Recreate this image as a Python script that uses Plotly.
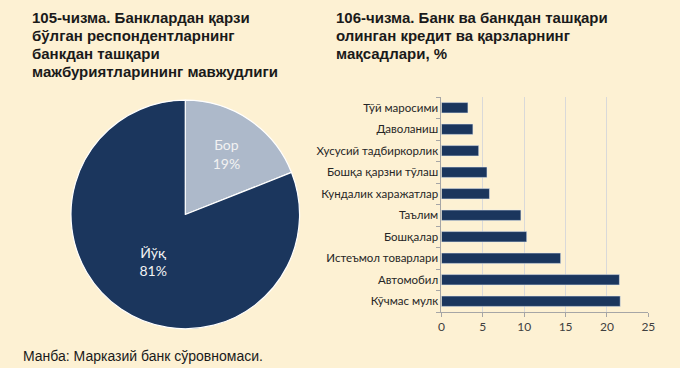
import plotly.graph_objects as go

W, H = 680, 368
BG = "#FDF1D3"

pie_labels = ["Бор", "Йўқ"]
pie_values = [19, 81]
pie_colors = ["#ADB9CA", "#1B365D"]

bar_categories = ["Кўчмас мулк", "Автомобил", "Истеъмол товарлари", "Бошқалар", "Таълим",
                  "Кундалик харажатлар", "Бошқа қарзни тўлаш", "Хусусий тадбиркорлик",
                  "Даволаниш", "Тўй маросими"]
bar_values = [21.6, 21.5, 14.4, 10.3, 9.6, 5.8, 5.5, 4.5, 3.8, 3.2]
x_ticks = [0, 5, 10, 15, 20, 25]

title_left = ["105-чизма. Банклардан қарзи", "бўлган респондентларнинг",
              "банкдан ташқари", "мажбуриятларининг мавжудлиги"]
title_right = ["106-чизма. Банк ва банкдан ташқари", "олинган кредит ва қарзларнинг",
               "мақсадлари, %"]
source = "Манба: Марказий банк сўровномаси."

fig = go.Figure()

cx, cy, r = 185, 214.5, 116
fig.add_trace(go.Pie(
    labels=pie_labels, values=pie_values, sort=False, direction="clockwise", rotation=0,
    marker=dict(colors=pie_colors, line=dict(color="#FFFFFF", width=1.2)),
    textinfo="label+percent", texttemplate="%{label}<br>%{percent:.0%}",
    textposition="inside", insidetextorientation="horizontal",
    textfont=dict(family="Lato", size=14, color=["#F2F2F2", "#F2F2F2"]),
    domain=dict(x=[(cx - r) / W, (cx + r) / W], y=[(H - cy - r) / H, (H - cy + r) / H]),
    showlegend=False, hoverinfo="skip",
))

fig.add_trace(go.Bar(
    y=bar_categories, x=bar_values, orientation="h",
    marker=dict(color="#1B365D"), showlegend=False, hoverinfo="skip",
))

x0, x1 = 445, 655
ytop, ybot = 97, 312
fig.update_layout(
    width=W, height=H, margin=dict(l=0, r=0, t=0, b=0),
    paper_bgcolor=BG, plot_bgcolor=BG,
    bargap=0.52,
    xaxis=dict(domain=[x0 / W, x1 / W], range=[0, 25], tickvals=x_ticks,
               showgrid=True, gridcolor="#D9D9D9", gridwidth=1,
               showline=True, linecolor="#A6A6A6", linewidth=1,
               ticks="outside", ticklen=4, tickcolor="#A6A6A6",
               tickfont=dict(family="Lato", size=12, color="#404040"),
               zeroline=False, fixedrange=True),
    yaxis=dict(domain=[(H - ybot) / H, (H - ytop) / H], type="category",
               categoryorder="array", categoryarray=bar_categories,
               showline=True, linecolor="#A6A6A6", linewidth=1,
               ticks="outside", tickson="boundaries", ticklen=4, tickcolor="#A6A6A6",
               tickfont=dict(family="Lato", size=11.5, color="#262626"),
               showgrid=False, fixedrange=True),
)

anns = []
for i, t in enumerate(title_left):
    anns.append(dict(text="<b>" + t + "</b>", x=27 / W, y=1 - (17 + 18 * i) / H,
                     xref="paper", yref="paper", xanchor="left", yanchor="middle",
                     showarrow=False, font=dict(family="Liberation Sans", size=15, color="#1a1a1a")))
for i, t in enumerate(title_right):
    anns.append(dict(text="<b>" + t + "</b>", x=336 / W, y=1 - (17 + 18 * i) / H,
                     xref="paper", yref="paper", xanchor="left", yanchor="middle",
                     showarrow=False, font=dict(family="Liberation Sans", size=15, color="#1a1a1a")))
anns.append(dict(text=source, x=18 / W, y=1 - 356 / H, xref="paper", yref="paper",
                 xanchor="left", yanchor="middle", showarrow=False,
                 font=dict(family="Liberation Sans", size=14, color="#1a1a1a")))
fig.update_layout(annotations=anns)

fig.write_html("out.html", config={"displayModeBar": False},
               post_script="document.body.style.margin='0';document.body.style.overflow='hidden';"
                           "document.body.style.background='" + BG + "';")
